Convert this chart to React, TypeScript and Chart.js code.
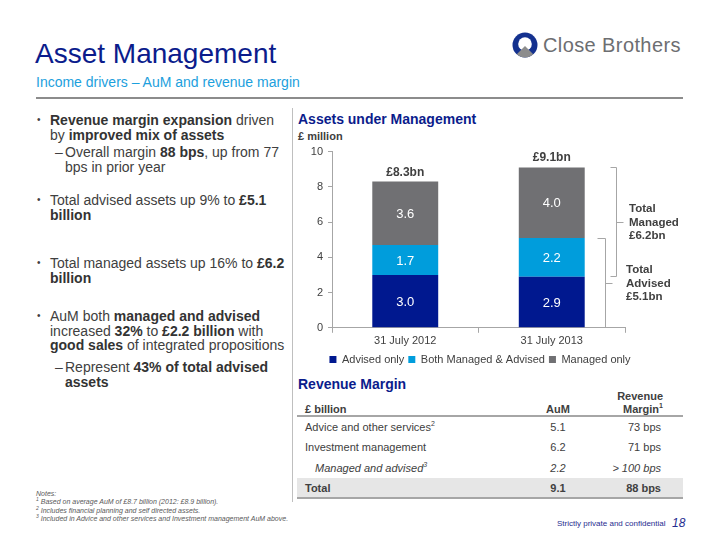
import React, { useEffect, useRef } from "react";
import { Chart, registerables } from "chart.js";

Chart.register(...registerables);

// ---------- data ----------
const categories = ["31 July 2012", "31 July 2013"];
const seriesNames = ["Advised only", "Both Managed & Advised", "Managed only"];
const advisedOnly = [3.0, 2.9];
const managedAndAdvised = [1.7, 2.2];
const managedOnly = [3.6, 4.0];
const totalValues = [8.3, 9.1];
const totalLabels = ["£8.3bn", "£9.1bn"];
const yTickMin = 0;
const yTickMax = 10;
const yTickStep = 2;
const managedBracketRange = [2.9, 9.1];
const managedBracketText = ["Total", "Managed", "£6.2bn"];
const advisedBracketRange = [0, 5.1];
const advisedBracketText = ["Total", "Advised", "£5.1bn"];

const tableLabels = ["Advice and other services", "Investment management", "Managed and advised", "Total"];
const tableLabelNotes = ["2", "", "3", ""];
const tableAuM = ["5.1", "6.2", "2.2", "9.1"];
const tableMargin = ["73 bps", "71 bps", "> 100 bps", "88 bps"];

// ---------- styles ----------
const FONT = "Arial, 'Liberation Sans', sans-serif";
const NAVY = "#00188F";
const LIGHT_BLUE = "#009DDC";
const BAR_GRAY = "#707073";
const TEXT = "#404040";
const AXIS = "#A6A6A6";
const TITLE_NAVY = "#0B1C8C";
const SUB_BLUE = "#1CA0DD";

const labelsPlugin = {
  id: "labelsPlugin",
  afterDatasetsDraw(chart: any) {
    const { ctx, chartArea } = chart;
    const xs = chart.scales.x;
    const ys = chart.scales.y;
    ctx.save();
    // values inside bars
    ctx.font = `13px ${FONT}`;
    ctx.fillStyle = "#ffffff";
    ctx.textAlign = "center";
    ctx.textBaseline = "middle";
    chart.data.datasets.forEach((ds: any, di: number) => {
      const meta = chart.getDatasetMeta(di);
      meta.data.forEach((el: any, i: number) => {
        const p = el.getProps(["x", "y", "base"], true);
        ctx.fillText(Number(ds.data[i]).toFixed(1), p.x, (p.y + p.base) / 2 + 1);
      });
    });
    // totals
    ctx.font = `bold 12px ${FONT}`;
    ctx.fillStyle = TEXT;
    ctx.textBaseline = "alphabetic";
    totalLabels.forEach((t, i) => {
      ctx.fillText(t, xs.getPixelForValue(i), ys.getPixelForValue(totalValues[i]) - 6);
    });
    // brackets
    ctx.strokeStyle = AXIS;
    ctx.lineWidth = 1;
    const bracket = (xv: number, arm: number, tick: number, v0: number, v1: number) => {
      const yTop = Math.round(ys.getPixelForValue(v1)) + 0.5;
      const yBot = Math.round(ys.getPixelForValue(v0)) - 0.5;
      const x = Math.round(xv) + 0.5;
      const ym = Math.round((yTop + yBot) / 2) + 0.5;
      ctx.beginPath();
      ctx.moveTo(x - arm, yTop);
      ctx.lineTo(x, yTop);
      ctx.lineTo(x, yBot);
      ctx.lineTo(x - arm, yBot);
      ctx.moveTo(x, ym);
      ctx.lineTo(x + tick, ym);
      ctx.stroke();
      return ym;
    };
    const r = chartArea.right;
    const m1 = bracket(r - 9, 6, 7, managedBracketRange[0], managedBracketRange[1]);
    const m2 = bracket(r - 20, 8, 7, advisedBracketRange[0], advisedBracketRange[1]);
    ctx.font = `bold 11.5px ${FONT}`;
    ctx.fillStyle = TEXT;
    ctx.textAlign = "left";
    ctx.textBaseline = "middle";
    managedBracketText.forEach((t, i) => ctx.fillText(t, r + 4, m1 + (i - 1) * 13.5));
    advisedBracketText.forEach((t, i) => ctx.fillText(t, r + 1, m2 + (i - 1) * 13.5));
    ctx.restore();
  },
};

function AumChart() {
  const ref = useRef<HTMLCanvasElement | null>(null);
  useEffect(() => {
    if (!ref.current) return;
    const chart = new Chart(ref.current, {
      type: "bar",
      data: {
        labels: categories,
        datasets: [
          { label: seriesNames[0], data: advisedOnly, backgroundColor: NAVY },
          { label: seriesNames[1], data: managedAndAdvised, backgroundColor: LIGHT_BLUE },
          { label: seriesNames[2], data: managedOnly, backgroundColor: BAR_GRAY },
        ],
      },
      options: {
        animation: false,
        responsive: false,
        maintainAspectRatio: false,
        layout: { padding: { top: 8, bottom: 0, left: 0, right: 0 } },
        datasets: { bar: { barPercentage: 0.45, categoryPercentage: 1 } },
        plugins: {
          legend: {
            position: "bottom",
            labels: {
              boxWidth: 7,
              boxHeight: 7,
              padding: 4,
              color: TEXT,
              font: { size: 11, family: FONT },
            },
          },
          tooltip: { enabled: false },
        },
        scales: {
          x: {
            stacked: true,
            grid: { display: true, drawOnChartArea: false, drawTicks: true, tickLength: 5, color: AXIS },
            border: { color: AXIS },
            ticks: { color: TEXT, font: { size: 11, family: FONT }, padding: 2 },
          },
          y: {
            stacked: true,
            min: yTickMin,
            max: yTickMax,
            ticks: { stepSize: yTickStep, color: TEXT, font: { size: 11, family: FONT }, padding: 5 },
            grid: { display: true, drawOnChartArea: false, drawTicks: true, tickLength: 4, color: AXIS },
            border: { color: AXIS },
            afterFit: (s: any) => {
              s.width = 62;
            },
          },
          yRight: {
            position: "right",
            display: true,
            grid: { display: false },
            border: { display: false },
            ticks: { display: false },
            afterFit: (s: any) => {
              s.width = 65;
            },
          },
        },
      } as any,
      plugins: [labelsPlugin],
    });
    return () => chart.destroy();
  }, []);
  return (
    <canvas
      ref={ref}
      width={420}
      height={235}
      style={{ position: "absolute", left: 270, top: 140, width: 420, height: 235 }}
    />
  );
}

const abs = (left: number, top: number, extra: any = {}) => ({
  position: "absolute" as const,
  left,
  top,
  whiteSpace: "nowrap" as const,
  ...extra,
});

function Logo() {
  return (
    <svg width={28} height={28} viewBox="0 0 28 28" style={{ position: "absolute", left: 511, top: 31 }}>
      <defs>
        <clipPath id="lc">
          <circle cx={14} cy={14} r={12.5} />
        </clipPath>
      </defs>
      <circle cx={14} cy={14} r={12.5} fill="#14318F" />
      <circle cx={14} cy={13} r={6.8} fill="#ffffff" />
      <polygon points="14,15 28,29 0,29" fill="#8C8C8C" clipPath="url(#lc)" />
    </svg>
  );
}

const B = ({ children }: any) => <b style={{ color: "#333" }}>{children}</b>;

export default function App() {
  const body = { fontFamily: FONT, fontSize: 14, lineHeight: "14.5px", color: TEXT };
  const bullet = (top: number) => (
    <div style={abs(37, top, { fontSize: 10, lineHeight: "14.5px", color: TEXT, fontFamily: FONT })}>•</div>
  );
  const rowTops = [427, 447, 468, 488];
  return (
    <div
      style={{
        position: "fixed",
        left: 0,
        top: 0,
        width: 720,
        height: 540,
        background: "#fff",
        overflow: "hidden",
        fontFamily: FONT,
      }}
    >
      {/* header */}
      <div style={abs(35, 38, { fontSize: 28, color: TITLE_NAVY, lineHeight: "32px" })}>Asset Management</div>
      <div style={abs(36, 74, { fontSize: 14, color: SUB_BLUE, lineHeight: "16px" })}>
        Income drivers – AuM and revenue margin
      </div>
      <div style={{ position: "absolute", left: 36, top: 97, width: 647, height: 2, background: "#8C8C8C" }} />
      <Logo />
      <div style={abs(543, 33, { fontSize: 20, letterSpacing: "0.4px", color: "#6D6E71", lineHeight: "24px" })}>
        Close Brothers
      </div>

      {/* vertical separator */}
      <div style={{ position: "absolute", left: 292, top: 108, width: 1, height: 394, background: "#BFBFBF" }} />

      {/* left bullets */}
      {bullet(113)}
      <div style={abs(50, 113, body)}>
        <B>Revenue margin expansion</B> driven
        <br />
        by <B>improved mix of assets</B>
      </div>
      <div style={abs(55, 145, body)}>–</div>
      <div style={abs(65, 145, body)}>
        Overall margin <B>88 bps</B>, up from 77
        <br />
        bps in prior year
      </div>
      {bullet(193)}
      <div style={abs(50, 193, body)}>
        Total advised assets up 9% to <B>£5.1</B>
        <br />
        <B>billion</B>
      </div>
      {bullet(256)}
      <div style={abs(50, 256, body)}>
        Total managed assets up 16% to <B>£6.2</B>
        <br />
        <B>billion</B>
      </div>
      {bullet(309)}
      <div style={abs(50, 309, body)}>
        AuM both <B>managed and advised</B>
        <br />
        increased <B>32%</B> to <B>£2.2 billion</B> with
        <br />
        <B>good sales</B> of integrated propositions
      </div>
      <div style={abs(55, 360, body)}>–</div>
      <div style={abs(65, 360, body)}>
        Represent <B>43% of total advised</B>
        <br />
        <B>assets</B>
      </div>

      {/* notes */}
      <div style={abs(36, 490, { fontSize: 7, lineHeight: "8.3px", color: "#595959", fontStyle: "italic" })}>
        Notes:
        <br />
        <sup style={{ fontSize: 5, lineHeight: 0 }}>1</sup> Based on average AuM of £8.7 billion (2012: £8.9 billion).
        <br />
        <sup style={{ fontSize: 5, lineHeight: 0 }}>2</sup> Includes financial planning and self directed assets.
        <br />
        <sup style={{ fontSize: 5, lineHeight: 0 }}>3</sup> Included in Advice and other services and Investment management AuM above.
      </div>

      {/* chart section */}
      <div style={abs(298, 111, { fontSize: 14, fontWeight: "bold", color: TITLE_NAVY, lineHeight: "17px" })}>
        Assets under Management
      </div>
      <div style={abs(298, 130, { fontSize: 11, fontWeight: "bold", color: TEXT, lineHeight: "13px" })}>£ million</div>
      <AumChart />

      {/* revenue margin table */}
      <div style={abs(298, 376, { fontSize: 14, fontWeight: "bold", color: TITLE_NAVY, lineHeight: "17px" })}>
        Revenue Margin
      </div>
      <div style={abs(305, 403, { fontSize: 11, fontWeight: "bold", color: TEXT, lineHeight: "13px" })}>£ billion</div>
      <div style={abs(528, 403, { width: 60, textAlign: "center", fontSize: 11, fontWeight: "bold", color: TEXT, lineHeight: "13px" })}>
        AuM
      </div>
      <div style={abs(583, 390, { width: 80, textAlign: "right", fontSize: 11, fontWeight: "bold", color: TEXT, lineHeight: "13px" })}>
        Revenue
        <br />
        Margin<sup style={{ fontSize: 7, lineHeight: 0 }}>1</sup>
      </div>
      <div style={{ position: "absolute", left: 297, top: 415, width: 386, height: 2, background: "#A6A6A6" }} />
      <div style={{ position: "absolute", left: 297, top: 478, width: 386, height: 20, background: "#E6E6E6" }} />
      <div style={{ position: "absolute", left: 297, top: 497, width: 386, height: 2, background: "#A6A6A6" }} />
      {tableLabels.map((lab, i) => {
        const isTotal = i === tableLabels.length - 1;
        const italic = i === 2;
        const style = {
          fontSize: 11,
          lineHeight: "13px",
          color: TEXT,
          fontWeight: isTotal ? ("bold" as const) : ("normal" as const),
          fontStyle: italic ? ("italic" as const) : ("normal" as const),
        };
        const top = rowTops[i] - 6.5;
        return (
          <React.Fragment key={lab}>
            <div style={abs(italic ? 315 : 305, top, style)}>
              {lab}
              {tableLabelNotes[i] ? <sup style={{ fontSize: 7, lineHeight: 0 }}>{tableLabelNotes[i]}</sup> : null}
            </div>
            <div style={abs(528, top, { ...style, width: 60, textAlign: "center" })}>{tableAuM[i]}</div>
            <div style={abs(581, top, { ...style, width: 80, textAlign: "right" })}>{tableMargin[i]}</div>
          </React.Fragment>
        );
      })}

      {/* footer */}
      <div style={abs(557, 519, { fontSize: 8, color: "#1F2D8F", lineHeight: "10px" })}>
        Strictly private and confidential
      </div>
      <div style={abs(672, 516, { fontSize: 12, fontStyle: "italic", color: "#1F2D8F", lineHeight: "14px" })}>18</div>
    </div>
  );
}
